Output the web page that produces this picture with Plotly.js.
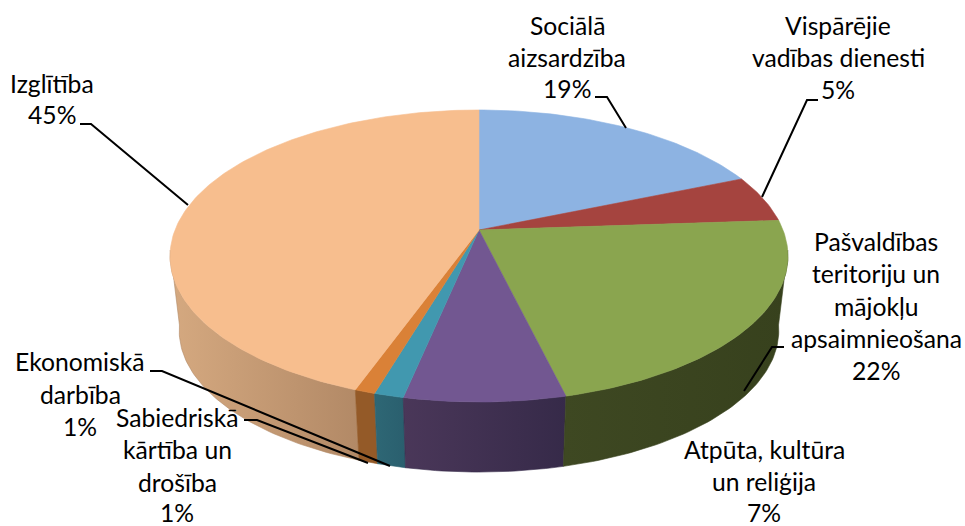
<!DOCTYPE html>
<html><head><meta charset="utf-8">
<script src="https://cdn.plot.ly/plotly-3.0.1.min.js"></script>
<style>html,body{margin:0;padding:0;background:#fff}</style></head>
<body><div id="chart" style="width:965px;height:526px"></div>
<script>
// Data (share of the total, %)
const categories = ["Sociālā aizsardzība","Vispārējie vadības dienesti","Pašvaldības teritoriju un mājokļu apsaimnieošana","Atpūta, kultūra un reliģija","Sabiedriskā kārtība un drošība","Ekonomiskā darbība","Izglītība"];
const shares = [18.7, 5.2, 22.3, 7.1, 1.3, 0.9, 44.5];
const percentLabels = ["19%","5%","22%","7%","1%","1%","45%"];
const labelLines = [["Sociālā","aizsardzība"],["Vispārējie","vadības dienesti"],["Pašvaldības","teritoriju un","mājokļu","apsaimnieošana"],["Atpūta, kultūra","un reliģija"],["Sabiedriskā","kārtība un","drošība"],["Ekonomiskā","darbība"],["Izglītība"]];

// Styles
const topColors = ["#8DB3E2","#A5443F","#8AA54F","#725791","#4198AF","#DA8137","#F7BE8E"];
const sideColors = [null,null,["#3E4822","#37411D"],["#4A3759","#362A49"],["#2E6775","#2A5F6E"],["#945A28","#945A28"],["#D5A980","#B28966"]];

// Projection of the tilted disc (perspective)
const k = 0.178;
const topFace = {cx:479, cy:230, a:304, b:141.4};
const bottomFace = {cx:479, cy:305.4, a:295, b:137};
function project(f, deg){
  const t = deg*Math.PI/180, x = Math.sin(t), y = Math.cos(t), d = 1 + k*y;
  return [f.cx + f.a*x/d, f.cy - f.b*y/d];
}
function arc(f, from, to){
  const pts = [], n = Math.max(2, Math.ceil(Math.abs(to-from)));
  for(let i=0;i<=n;i++) pts.push(project(f, from+(to-from)*i/n));
  return pts;
}
// Slice boundaries in degrees, from the shares
const total = shares.reduce((s,v)=>s+v,0);
const bounds = [0];
shares.forEach((v,i)=>bounds.push(bounds[i]+v/total*360));
// Angular range where the side wall is visible
const wallFrom = 98, wallTo = 262;

const traces = [];
function poly(pts, color, gradient){
  const tr = {type:"scatter", mode:"lines", x:pts.map(p=>p[0]), y:pts.map(p=>p[1]), fill:"toself",
    line:{width:0.6, color:color}, hoverinfo:"skip", showlegend:false};
  if(gradient) tr.fillgradient = {type:"horizontal", colorscale:[[0,gradient[0]],[1,gradient[1]]]};
  else tr.fillcolor = color;
  traces.push(tr);
}
// Side walls first
[6,5,4,3,2].forEach(i=>{
  const from = Math.max(bounds[i], wallFrom), to = Math.min(bounds[i+1], wallTo);
  if(to<=from) return;
  const pts = arc(topFace, from, to).concat(arc(bottomFace, to, from));
  pts.push(pts[0]);
  const g = sideColors[i];
  poly(pts, g[1], [g[0],g[1]]);
});
// Top faces
shares.forEach((v,i)=>{
  const pts = [[topFace.cx, topFace.cy]].concat(arc(topFace, bounds[i], bounds[i+1]));
  pts.push(pts[0]);
  poly(pts, topColors[i]);
});

// Leader lines (placement of the label callouts)
const leaders = [
 [[595,97],[607,97],[626,128]],
 [[818,100],[807,100],[762,197]],
 [[784,347],[772,347],[744,391]],
 [[244,420],[257,420],[368,463]],
 [[150,371],[162,371],[390,466]],
 [[80,124],[91,124],[188,205]]
];
leaders.forEach(l=>traces.push({type:"scatter",mode:"lines",x:l.map(p=>p[0]),y:l.map(p=>p[1]),
  line:{color:"#000",width:2},hoverinfo:"skip",showlegend:false}));

// Label placement: centre x, y of each line
const place = [
 {i:0,x:567,ly:[25,57,88]},
 {i:1,x:838,ly:[25,57,89]},
 {i:2,x:876,ly:[241,273,306,338,370]},
 {i:3,x:764,ly:[449,481,512]},
 {i:4,x:177,ly:[417,449,482,512]},
 {i:5,x:80,ly:[361,394,426]},
 {i:6,x:52,ly:[83,114]}
];
const annotations = [];
place.forEach(p=>{
  labelLines[p.i].concat([percentLabels[p.i]]).forEach((t,j)=>annotations.push({
    x:p.x,y:p.ly[j],xref:"x",yref:"y",text:t,showarrow:false,xanchor:"center",yanchor:"middle",
    font:{family:"Lato, 'Open Sans', sans-serif",size:24.7,color:"#000"}
  }));
});

Plotly.newPlot("chart", traces, {
  width:965,height:526,margin:{l:0,r:0,t:0,b:0},
  paper_bgcolor:"#fff",plot_bgcolor:"#fff",showlegend:false,
  xaxis:{range:[0,965],visible:false,fixedrange:true},
  yaxis:{range:[526,0],visible:false,fixedrange:true},
  annotations:annotations
},{displayModeBar:false,staticPlot:true});
</script></body></html>
